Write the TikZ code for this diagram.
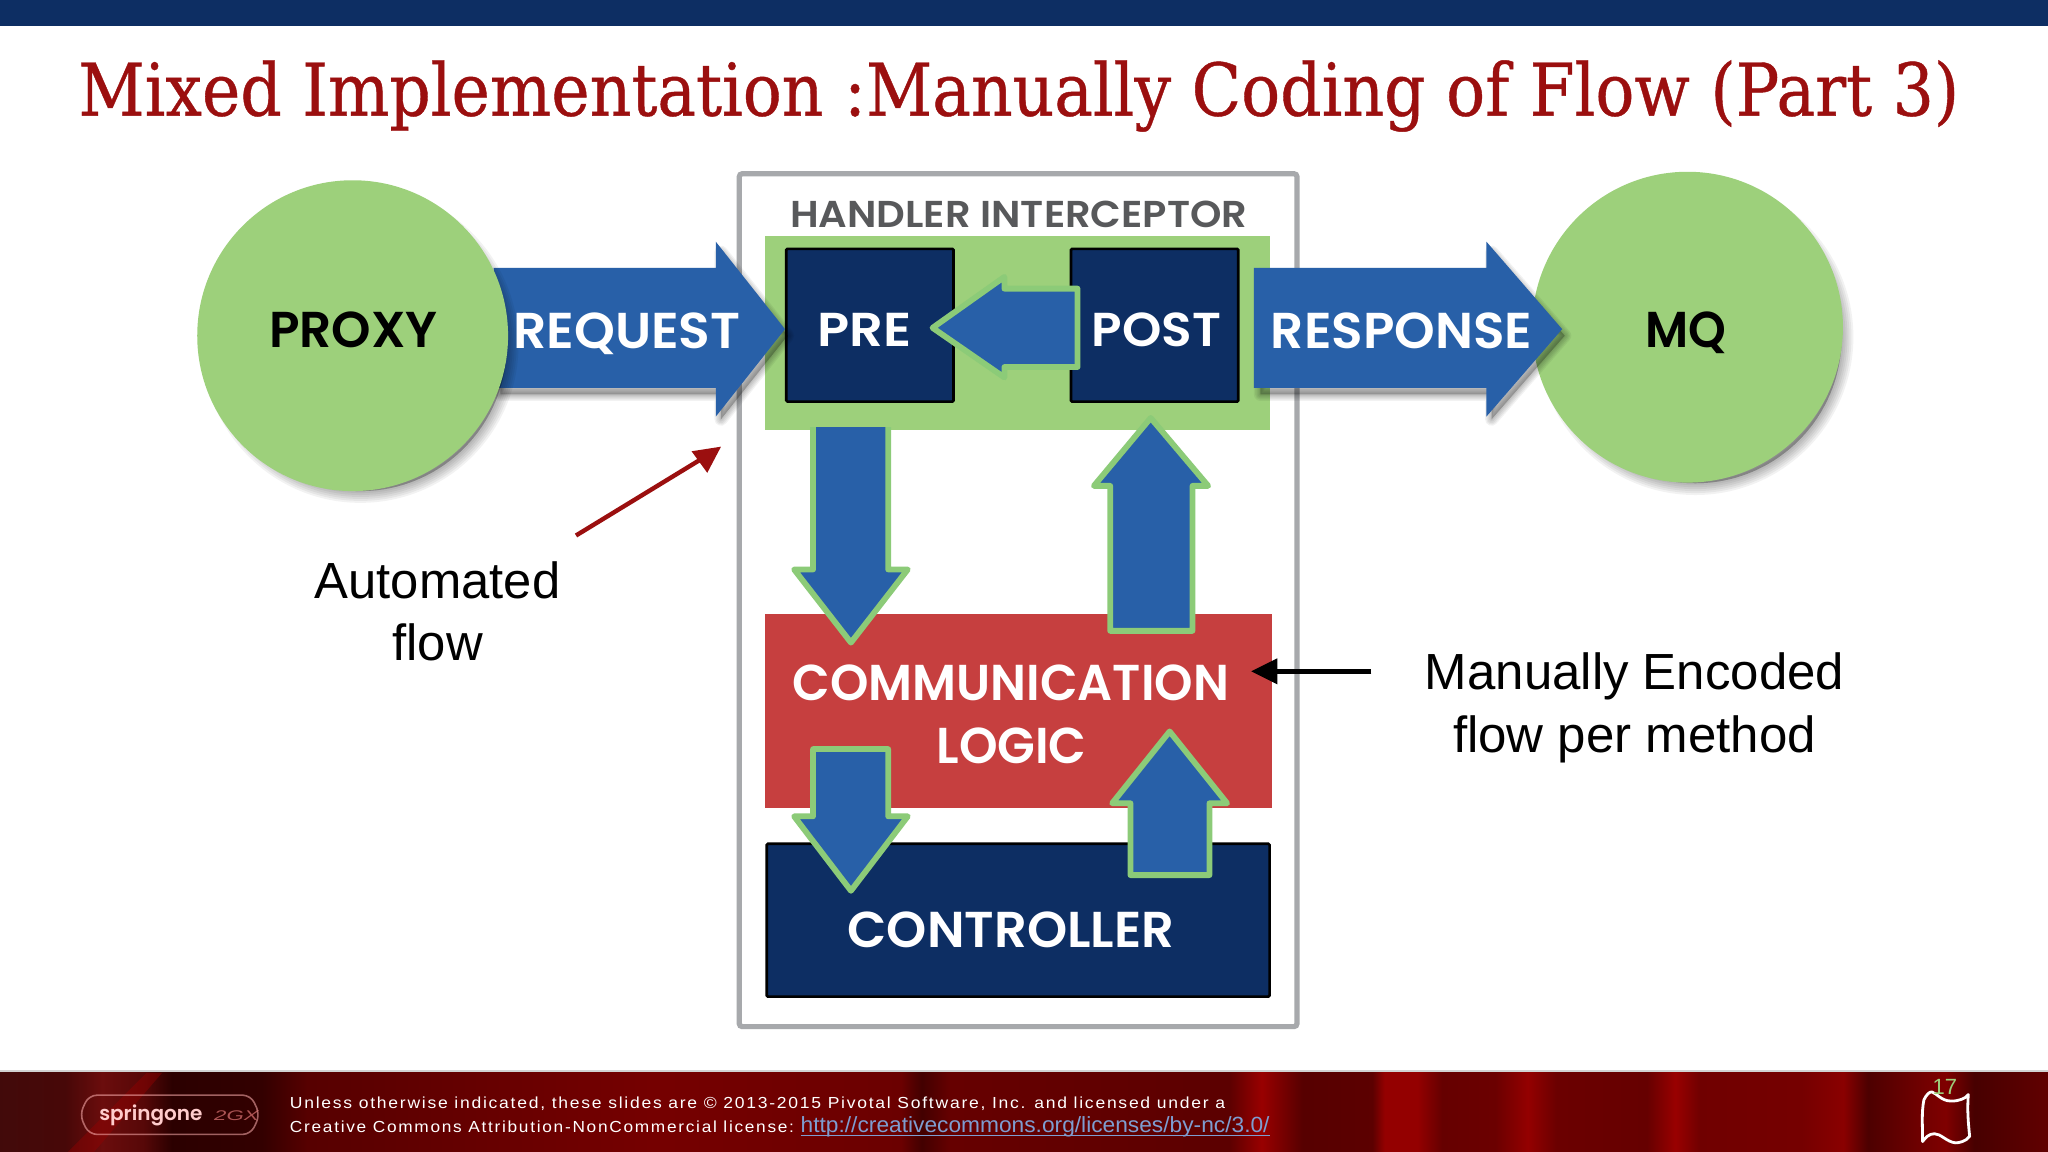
\documentclass[tikz,border=0pt]{standalone}
\usepackage{fontspec}
\setmainfont{Liberation Sans}
\newfontfamily\heavy{Poppins}[BoldFont=* SemiBold]
\newfontfamily\titlefont{DejaVu Serif}[FakeBold=0.6]
\newfontfamily\footfont[LetterSpace=10]{Liberation Sans}
\definecolor{navy}{HTML}{0D2E63}
\definecolor{leaf}{HTML}{9DD07B}
\definecolor{edgegreen}{HTML}{8CCB78}
\definecolor{blockblue}{HTML}{2860A8}
\definecolor{brick}{HTML}{C63F3F}
\definecolor{boxgray}{HTML}{A7A9AC}
\definecolor{titlered}{HTML}{9B0F0F}
\definecolor{inkgray}{HTML}{58595B}
\definecolor{linkblue}{HTML}{7E9DD0}
\pgfdeclarehorizontalshading{curtain}{100bp}{
rgb(0bp)=(0.26,0.04,0.04);
rgb(25bp)=(0.26,0.04,0.04);
rgb(26.6bp)=(0.28,0.03,0.03);
rgb(27.5bp)=(0.42,0.05,0.05);
rgb(28.5bp)=(0.34,0.03,0.03);
rgb(29.2bp)=(0.17,0,0);
rgb(31.4bp)=(0.20,0,0);
rgb(32.5bp)=(0.34,0,0);
rgb(41bp)=(0.46,0,0);
rgb(47bp)=(0.42,0,0);
rgb(47.5bp)=(0.26,0,0);
rgb(48.2bp)=(0.40,0,0);
rgb(55bp)=(0.36,0,0);
rgb(55.8bp)=(0.60,0,0);
rgb(56.8bp)=(0.34,0,0);
rgb(58.5bp)=(0.36,0,0);
rgb(58.8bp)=(0.58,0,0);
rgb(59.6bp)=(0.58,0,0);
rgb(60.2bp)=(0.40,0,0);
rgb(61.5bp)=(0.42,0,0);
rgb(62.3bp)=(0.58,0,0);
rgb(63bp)=(0.42,0,0);
rgb(65.2bp)=(0.40,0,0);
rgb(65.9bp)=(0.60,0,0);
rgb(66.5bp)=(0.44,0,0);
rgb(69bp)=(0.46,0,0);
rgb(70bp)=(0.54,0,0);
rgb(70.6bp)=(0.30,0,0);
rgb(71.5bp)=(0.40,0,0);
rgb(72.5bp)=(0.50,0,0);
rgb(73.2bp)=(0.28,0,0);
rgb(75bp)=(0.38,0,0);
rgb(100bp)=(0.38,0,0)}
\newsavebox{\fitbox}
\newcommand{\fitx}[2]{\sbox{\fitbox}{#2}\pgfmathsetmacro{\fitratio}{#1*0.653/\the\wd\fitbox}\scalebox{\fitratio}[1]{\usebox{\fitbox}}}
\newcommand{\softshadow}[1]{%
  \foreach \w in {18,15,12,9,6,3}{\path[fill=black,draw=black,line join=round,fill opacity=0.05,draw opacity=0.05,line width=\w*0.653pt] #1;}}
\newcommand{\softshadowthin}[1]{%
  \foreach \w in {10,8,6,4,2}{\path[fill=black,draw=black,line join=round,fill opacity=0.05,draw opacity=0.05,line width=\w*0.653pt] #1;}}
\tikzset{
  word/.style={inner sep=0pt,outer sep=0pt,anchor=base},
  capswhite/.style={word,text=white,font=\heavy\bfseries\fontsize{25.2}{28}\selectfont},
  capsblack/.style={word,text=black,font=\heavy\bfseries\fontsize{25.2}{28}\selectfont},
  note/.style={word,text=black,font=\fontsize{25.4}{30}\selectfont},
  block/.style={fill=blockblue,draw=edgegreen,line width=2.9pt,line join=round},
  plainblock/.style={fill=blockblue},
  darkbox/.style={fill=navy,draw=black,line width=1.3pt,rounded corners=0.6pt},
  orb/.style={circle,fill=leaf,minimum size=155.4pt,inner sep=0pt},
  foot/.style={word,text=white,font=\footfont\fontsize{8}{10}\selectfont},
}
\begin{document}
\begin{tikzpicture}[x=0.653pt,y=-0.653pt]
\useasboundingbox (0,0) rectangle (1568,882);
\fill[white] (0,0) rectangle (1568,882);
% bands
\fill[navy] (0,0) rectangle (1568,20);
\fill[black!35,opacity=.5] (0,819.5) rectangle (1568,822);
\shade[shading=curtain] (0,821.5) rectangle (1568,882);
\fill[red!60!black,opacity=.4] (112,821.5) -- (124,821.5) -- (72,882) -- (52,882) -- cycle;
% title
\node[word,text=titlered,font=\titlefont\fontsize{36.4}{44}\selectfont] (title) at (780,88.5) {\fitx{1440}{Mixed Implementation :Manually Coding of Flow (Part 3)}};
% outer frame
\draw[boxgray,line width=2.6pt,fill=white,rounded corners=1.5pt] (566,133) rectangle (993,786);
\node[word,text=inkgray,font=\heavy\bfseries\fontsize{18.7}{22}\selectfont] (handler) at (780,174) {\fitx{350}{HANDLER INTERCEPTOR}};
\fill[leaf] (586,181) rectangle (972,329);
\node[darkbox,minimum width=83.6pt,minimum height=76.4pt,inner sep=0pt] (pre) at (666,249) {};
\node[darkbox,minimum width=83.6pt,minimum height=76.4pt,inner sep=0pt] (post) at (884,249) {};
\fill[brick] (586,470) rectangle (974,618.5);
\node[darkbox,minimum width=251.4pt,minimum height=76.4pt,inner sep=0pt] (controller) at (779.5,704.5) {};
% circles and big arrows
\softshadowthin{(383,210) -- (552,210) -- (552,193) -- (603,257) -- (552,321) -- (552,302) -- (383,302) -- cycle}
\fill[plainblock] (378,205) -- (548,205) -- (548,185) -- (601,252) -- (548,319) -- (548,297) -- (378,297) -- cycle;
\softshadow{(276,264) circle[radius=112]}
\node[orb] (proxy) at (270,257) {};
\softshadow{(1298,258) circle[radius=112]}
\node[orb] (mq) at (1292,250.5) {};
\softshadowthin{(965,210) -- (1142,210) -- (1142,193) -- (1198,257) -- (1142,321) -- (1142,302) -- (965,302) -- cycle}
\fill[plainblock] (960,205) -- (1138,205) -- (1138,185) -- (1196,252) -- (1138,319) -- (1138,297) -- (960,297) -- cycle;
% block arrows on the stack
\draw[block] (825,221) -- (769,221) -- (769,212) -- (714,251) -- (769,289) -- (769,281) -- (825,281) -- cycle;
\fill[blockblue] (622.5,327) rectangle (680,436);
\draw[block] (622.5,327) -- (622.5,436) -- (608,436) -- (651.5,492) -- (695,436) -- (680,436) -- (680,327);
\draw[block] (881,320) -- (837.5,372) -- (850,372) -- (850,483) -- (913,483) -- (913,372) -- (925,372) -- cycle;
\draw[block] (622.5,573.5) -- (622.5,625) -- (608,625) -- (651.5,682) -- (695,625) -- (680,625) -- (680,573.5) -- cycle;
\draw[block] (895.5,560) -- (851.5,615) -- (865.5,615) -- (865.5,670) -- (926,670) -- (926,615) -- (939.5,615) -- cycle;
% caps labels
\node[capsblack] (proxytext) at (270.5,266) {\fitx{129}{PROXY}};
\node[capswhite] (requesttext) at (480,266.5) {\fitx{174}{REQUEST}};
\node[capswhite,font=\heavy\bfseries\fontsize{23.8}{28}\selectfont] (pretext) at (662,265.5) {\fitx{72}{PRE}};
\node[capswhite,font=\heavy\bfseries\fontsize{23.8}{28}\selectfont] (posttext) at (885.5,265.5) {\fitx{99}{POST}};
\node[capswhite] (responsetext) at (1073,266.5) {\fitx{200}{RESPONSE}};
\node[capsblack] (mqtext) at (1291,266) {\fitx{62}{MQ}};
\node[capswhite] (commtext) at (774,536.5) {\fitx{334}{COMMUNICATION}};
\node[capswhite] (logictext) at (774.5,584.5) {\fitx{115}{LOGIC}};
\node[capswhite] (ctrltext) at (774,725.5) {\fitx{250}{CONTROLLER}};
% annotations
\node[note] (auto1) at (335,458) {\fitx{188}{Automated}};
\node[note] (auto2) at (335,506) {flow};
\node[note] (man1) at (1251.5,528) {\fitx{321}{Manually Encoded}};
\node[note] (man2) at (1251.5,576) {\fitx{278}{flow per method}};
\coordinate (redstart) at (441,410);
\coordinate (redend) at (552,342);
\coordinate (blackstart) at (1050,514);
\coordinate (blackend) at (958,514);
\draw[titlered,line width=2.2pt] (redstart) -- (541,349);
\fill[titlered] (redend) -- (529.5,345.5) -- (541.5,362) -- cycle;
\draw[black,line width=2.4pt] (blackstart) -- (975,514);
\fill[black] (blackend) -- (978,504) -- (978,524) -- cycle;
% footer
\node[foot,anchor=base west] (foot1) at (222,848.7) {\fitx{716}{Unless otherwise indicated, these slides are © 2013-2015 Pivotal Software, Inc. and licensed under a}};
\node[foot,anchor=base west] (foot2) at (222,867) {\fitx{386}{Creative Commons Attribution-NonCommercial license:}};
\node[word,anchor=base west,text=linkblue,font=\fontsize{11}{13}\selectfont] (link) at (613,867) {\fitx{359}{http://creativecommons.org/licenses/by-nc/3.0/}};
\draw[linkblue,line width=.7pt] (link.base west)++(0,2.5) -- ++(359,0);
\draw[white!70!red,opacity=.55,line width=.8pt,rounded corners=4pt] (68,838.5) -- (192,838.5) -- (199,853.5) -- (192,868.5) -- (68,868.5) -- (61,853.5) -- cycle;
\node[word,text=white!80!red,font=\heavy\bfseries\fontsize{10}{12}\selectfont] (logo) at (115.5,858) {\fitx{79}{springone}};
\node[word,text=white!55!red,opacity=.6,font=\itshape\fontsize{7}{8}\selectfont] (logo2) at (181,858) {\fitx{34}{2GX}};
\draw[white,line width=1.4pt,line join=round] (1473,842) .. controls (1475,838) and (1477,836) .. (1479,836) .. controls (1483,837) and (1486,843) .. (1494,843) .. controls (1500,843) and (1505,841) .. (1507,838) .. controls (1506,850) and (1507,860) .. (1508,870) .. controls (1505,874) and (1500,875) .. (1497,875) .. controls (1490,874) and (1486,868) .. (1481,868) .. controls (1477,868) and (1474,871) .. (1472,874) .. controls (1472,862) and (1471,852) .. (1473,842) -- cycle;
\node[word,text=leaf,font=\fontsize{11}{12}\selectfont] (pagenum) at (1489,838) {17};
\end{tikzpicture}
\end{document}
